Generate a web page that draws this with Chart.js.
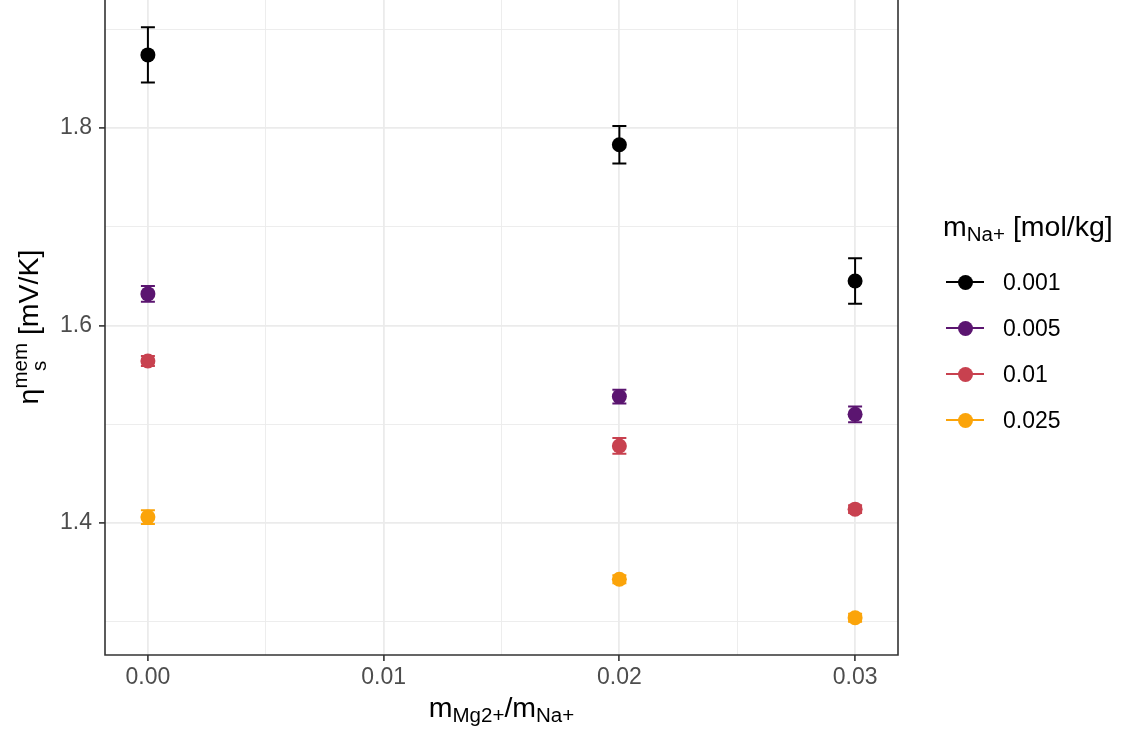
<!DOCTYPE html>
<html>
<head>
<meta charset="utf-8">
<script src="https://cdn.jsdelivr.net/npm/chart.js@4/dist/chart.umd.min.js"></script>
<style>
  body { margin: 0; background: #fff; font-family: "Liberation Sans", Arial, sans-serif; }
  #wrap { position: relative; width: 1126px; height: 735px; }
  #chart { position: absolute; left: 0; top: 0; }
  .ttl { position: absolute; font-size: 28.5px; color: #000; white-space: nowrap; line-height: 1; }
  .sb { font-size: 0.72em; position: relative; top: 0.22em; }
  #ytitle { left: -172px; top: 307px; width: 400px; height: 40px; line-height: 40px; text-align: center; transform: rotate(-90deg); }
  .stack { display: inline-flex; flex-direction: column; font-size: 0.72em; line-height: 0.95; vertical-align: 11px; }
  #xtitle { left: 105px; width: 793px; top: 693px; text-align: center; }
  #legtitle { left: 943px; top: 212px; }
  .leg { position: absolute; left: 946px; height: 30px; font-size: 23px; color: #000; }
  .leg .ln { position: absolute; left: 0; top: 14px; width: 38px; height: 2px; }
  .leg .pt { position: absolute; left: 12px; top: 7.5px; width: 15px; height: 15px; border-radius: 50%; }
  .leg .tx { position: absolute; left: 57px; top: 3px; line-height: 24px; }
</style>
</head>
<body>
<div id="wrap">
  <canvas id="chart" width="1126" height="735"></canvas>
  <div id="ytitle" class="ttl">η<span class="stack"><span>mem</span><span>s</span></span> [mV/K]</div>
  <div id="xtitle" class="ttl">m<span class="sb">Mg2+</span>/m<span class="sb">Na+</span></div>
  <div id="legtitle" class="ttl">m<span class="sb">Na+</span> [mol/kg]</div>
  <div id="legend"></div>
</div>
<script>
// mass ratio Mg2+/Na+ (x positions)
const xValues = [0, 0.02, 0.03];

// legend groups: m_Na+ [mol/kg]
const groupNames = ['0.001', '0.005', '0.01', '0.025'];
const groupColors = ['#000000', '#5B1570', '#C8414F', '#FBA40A'];

// eta_s^mem means and error half-widths per group
const mean0001 = [1.874, 1.783, 1.645];
const err0001  = [0.028, 0.019, 0.023];
const mean0005 = [1.632, 1.528, 1.510];
const err0005  = [0.008, 0.007, 0.008];
const mean001  = [1.564, 1.478, 1.414];
const err001   = [0.005, 0.008, 0.004];
const mean0025 = [1.406, 1.343, 1.304];
const err0025  = [0.007, 0.004, 0.004];

const groupMeans = [mean0001, mean0005, mean001, mean0025];
const groupErrs = [err0001, err0005, err001, err0025];

// ticks (empty label = minor grid line)
const xTicks = [0, 0.005, 0.01, 0.015, 0.02, 0.025, 0.03];
const xTickLabels = ['0.00', '', '0.01', '', '0.02', '', '0.03'];
const yTicks = [1.3, 1.4, 1.5, 1.6, 1.7, 1.8, 1.9];
const yTickLabels = ['', '1.4', '', '1.6', '', '1.8', ''];

const datasets = groupNames.map((name, g) => ({
  label: name,
  data: xValues.map((x, i) => ({ x: x, y: groupMeans[g][i], err: groupErrs[g][i] })),
  backgroundColor: groupColors[g],
  borderColor: groupColors[g],
  pointRadius: 7.5,
  pointBorderWidth: 0,
  showLine: false
}));

// error bars under the points
const errorBars = {
  id: 'errorBars',
  beforeDatasetsDraw(chart) {
    const ctx = chart.ctx, xs = chart.scales.x, ys = chart.scales.y;
    ctx.save();
    ctx.lineWidth = 2;
    chart.data.datasets.forEach(ds => {
      ctx.strokeStyle = ds.borderColor;
      ds.data.forEach(p => {
        const px = xs.getPixelForValue(p.x);
        const t = ys.getPixelForValue(p.y + p.err);
        const b = ys.getPixelForValue(p.y - p.err);
        ctx.beginPath();
        ctx.moveTo(px, t); ctx.lineTo(px, b);
        ctx.moveTo(px - 7, t); ctx.lineTo(px + 7, t);
        ctx.moveTo(px - 7, b); ctx.lineTo(px + 7, b);
        ctx.stroke();
      });
    });
    ctx.restore();
  }
};

// panel border (top edge lies outside the picture)
const panelBorder = {
  id: 'panelBorder',
  afterDraw(chart) {
    const { ctx, chartArea: a } = chart;
    ctx.save();
    ctx.strokeStyle = '#333333';
    ctx.lineWidth = 1.6;
    ctx.beginPath();
    ctx.moveTo(a.left, a.top); ctx.lineTo(a.left, a.bottom);
    ctx.lineTo(a.right, a.bottom); ctx.lineTo(a.right, a.top);
    ctx.stroke();
    ctx.restore();
  }
};

const tickFont = { family: '"Liberation Sans", Arial, sans-serif', size: 23 };

new Chart(document.getElementById('chart'), {
  type: 'scatter',
  data: { datasets: datasets },
  options: {
    responsive: false,
    animation: false,
    devicePixelRatio: 1,
    layout: { autoPadding: false, padding: { top: 0, right: 228, bottom: 0, left: 0 } },
    plugins: { legend: { display: false }, tooltip: { enabled: false } },
    scales: {
      x: {
        type: 'linear',
        min: -0.00182,
        max: 0.03182,
        afterBuildTicks: s => { s.ticks = xTicks.map(v => ({ value: v })); },
        afterFit: s => { s.height = 80; s.paddingLeft = 0; s.paddingRight = 0; },
        border: { display: false },
        grid: {
          color: '#EBEBEB',
          lineWidth: c => xTickLabels[c.index] ? 1.8 : 0.9,
          tickColor: c => xTickLabels[c.index] ? '#333333' : 'rgba(0,0,0,0)',
          tickLength: 6,
          tickWidth: 1.6
        },
        ticks: {
          autoSkip: false,
          maxRotation: 0,
          padding: 3,
          color: '#4D4D4D',
          font: tickFont,
          callback: (v, i) => xTickLabels[i]
        }
      },
      y: {
        type: 'linear',
        min: 1.2663,
        max: 1.9296,
        afterBuildTicks: s => { s.ticks = yTicks.map(v => ({ value: v })); },
        afterFit: s => { s.width = 105; s.paddingTop = 0; s.paddingBottom = 0; },
        border: { display: false },
        grid: {
          color: '#EBEBEB',
          lineWidth: c => yTickLabels[c.index] ? 1.8 : 0.9,
          tickColor: c => yTickLabels[c.index] ? '#333333' : 'rgba(0,0,0,0)',
          tickLength: 6,
          tickWidth: 1.6
        },
        ticks: {
          autoSkip: false,
          padding: 7,
          color: '#4D4D4D',
          font: tickFont,
          callback: (v, i) => yTickLabels[i]
        }
      }
    }
  },
  plugins: [errorBars, panelBorder]
});

// HTML legend
const legTops = [267, 313, 359, 405];
const legend = document.getElementById('legend');
groupNames.forEach((name, g) => {
  const d = document.createElement('div');
  d.className = 'leg';
  d.style.top = legTops[g] + 'px';
  d.innerHTML = '<div class="ln" style="background:' + groupColors[g] + '"></div>' +
    '<div class="pt" style="background:' + groupColors[g] + '"></div>' +
    '<div class="tx">' + name + '</div>';
  legend.appendChild(d);
});
</script>
</body>
</html>
